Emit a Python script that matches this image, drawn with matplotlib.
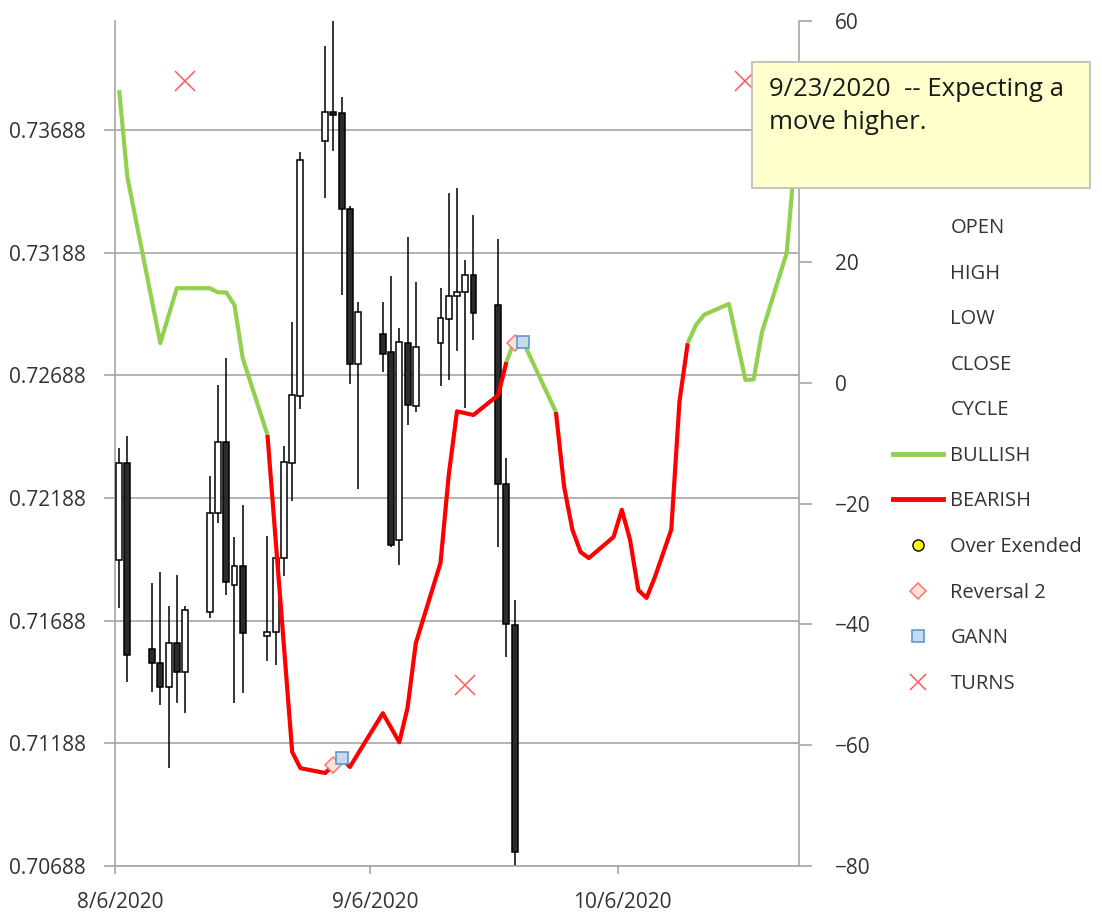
import matplotlib
matplotlib.use('Agg')
import matplotlib.pyplot as plt
import matplotlib.dates as mdates
from matplotlib.lines import Line2D
from matplotlib.patches import Rectangle
from matplotlib.ticker import FixedLocator, FuncFormatter
import datetime as dt

plt.rcParams['font.family'] = ['Open Sans', 'DejaVu Sans']

# ---------------- data ----------------
candle_dates = ['2020-08-06', '2020-08-07',
                '2020-08-10', '2020-08-11', '2020-08-12', '2020-08-13', '2020-08-14',
                '2020-08-17', '2020-08-18', '2020-08-19', '2020-08-20', '2020-08-21',
                '2020-08-24', '2020-08-25', '2020-08-26', '2020-08-27', '2020-08-28',
                '2020-08-31', '2020-09-01', '2020-09-02', '2020-09-03', '2020-09-04',
                '2020-09-07', '2020-09-08', '2020-09-09', '2020-09-10', '2020-09-11',
                '2020-09-14', '2020-09-15', '2020-09-16', '2020-09-17', '2020-09-18',
                '2020-09-21', '2020-09-22', '2020-09-23']
open_ = [0.71937, 0.72329, 0.71574, 0.71517, 0.71419, 0.71598, 0.71480, 0.71725, 0.72129,
         0.72415, 0.71835, 0.71912, 0.71627, 0.71643, 0.71945, 0.72329, 0.72606, 0.73643,
         0.73761, 0.73757, 0.73366, 0.72733, 0.72855, 0.72782, 0.72015, 0.72819, 0.72562,
         0.72819, 0.72917, 0.73010, 0.73027, 0.73096, 0.72974, 0.72247, 0.71672]
high = [0.72394, 0.72439, 0.71843, 0.71888, 0.71749, 0.71876, 0.71749, 0.72276, 0.72647,
        0.72757, 0.72031, 0.72161, 0.72035, 0.71955, 0.72402, 0.72904, 0.73598, 0.74031,
        0.74150, 0.73823, 0.73378, 0.72986, 0.72986, 0.73092, 0.72880, 0.73251, 0.73068,
        0.73043, 0.73431, 0.73451, 0.73157, 0.73341, 0.73243, 0.72353, 0.71774]
low = [0.71741, 0.71439, 0.71398, 0.71345, 0.71088, 0.71353, 0.71313, 0.71700, 0.72088,
       0.71794, 0.71353, 0.71394, 0.71525, 0.71508, 0.71872, 0.72174, 0.72553, 0.73410,
       0.73602, 0.73015, 0.72651, 0.72223, 0.72700, 0.71990, 0.71917, 0.72484, 0.72540,
       0.72643, 0.72668, 0.72786, 0.72557, 0.72831, 0.71990, 0.71541, 0.70670]
close = [0.72329, 0.71549, 0.71517, 0.71419, 0.71598, 0.71480, 0.71733, 0.72129, 0.72415,
         0.71847, 0.71912, 0.71639, 0.71643, 0.71945, 0.72333, 0.72610, 0.73566, 0.73761,
         0.73749, 0.73366, 0.72733, 0.72945, 0.72774, 0.71998, 0.72823, 0.72566, 0.72802,
         0.72921, 0.73010, 0.73027, 0.73096, 0.72941, 0.72247, 0.71676, 0.70745]

start_date = '2020-08-06'   # day 0 of the cycle series
end_date = '2020-10-28'

# cycle (right axis): day offsets from start_date and values
bull1_days = [0, 1, 5, 7, 11, 12, 13, 14, 15, 18]
bull1_vals = [48.5, 34.1, 6.6, 15.7, 15.7, 15.0, 15.0, 12.9, 4.1, -8.6]
bear1_days = [18, 21, 22, 25, 26, 27, 28, 32, 34, 35, 36, 39, 40, 41, 43, 46, 47]
bear1_vals = [-8.6, -61.1, -63.8, -64.6, -63.3, -62.1, -63.6, -54.7, -59.5, -53.8, -43.1,
              -29.8, -15.2, -4.7, -5.3, -2.0, 3.5]
bull2_days = [47, 48, 49, 53]
bull2_vals = [3.5, 7.1, 6.9, -4.8]
bear2_days = [53, 54, 55, 56, 57, 60, 61, 62, 63, 64, 65, 67, 68, 69]
bear2_vals = [-4.8, -17.2, -24.3, -28.0, -29.0, -25.5, -21.0, -26.0, -34.3, -35.6, -32.2,
              -24.3, -3.0, 6.6]
bull3_days = [69, 70, 71, 74, 76, 77, 78, 81, 82]
bull3_vals = [6.6, 9.6, 11.3, 13.1, 0.5, 0.6, 8.4, 21.5, 37.0]

reversal_days = [26, 48]
reversal_vals = [-63.3, 6.6]
gann_days = [27, 49]
gann_vals = [-62.1, 6.8]
turn_days = [8, 42, 76]
turn_vals = [50, -50, 50]

left_ticks = [0.70688, 0.71188, 0.71688, 0.72188, 0.72688, 0.73188, 0.73688]
right_ticks = [-80, -60, -40, -20, 0, 20, 40, 60]
x_tick_dates = ['2020-08-06', '2020-09-06', '2020-10-06']
legend_labels = ['OPEN', 'HIGH', 'LOW', 'CLOSE', 'CYCLE', 'BULLISH', 'BEARISH',
                 'Over Exended', 'Reversal 2', 'GANN', 'TURNS']
note_text = '9/23/2020  -- Expecting a\nmove higher.'

# ---------------- figure ----------------
W, H = 1102, 913
fig = plt.figure(figsize=(W / 100, H / 100), dpi=100)
ax_l, ax_r, ax_t, ax_b = 115, 799, 20.7, 866
ax = fig.add_axes([ax_l / W, 1 - ax_b / H, (ax_r - ax_l) / W, (ax_b - ax_t) / H])

base = mdates.date2num(dt.datetime.strptime(start_date, '%Y-%m-%d'))
def dnum(s):
    return mdates.date2num(dt.datetime.strptime(s, '%Y-%m-%d'))

grid_c = '#A6A6A6'
text_c = '#333333'
green = '#92D050'
red = '#FF0000'

# candlesticks
for d, o, h, l, c in zip(candle_dates, open_, high, low, close):
    x = dnum(d) + 0.5
    ax.vlines(x, l, h, color='black', lw=1.1, zorder=2)
    up = c >= o
    ax.bar(x, abs(c - o), bottom=min(o, c), width=0.72,
           color='white' if up else '#2B2B2B', edgecolor='black', lw=1.1, zorder=3)

ax.set_xlim(dnum(start_date), dnum(end_date))
ax.set_ylim(0.70688, 0.74134)
ax.set_yticks(left_ticks)
ax.set_yticklabels([f'{v:.5f}' for v in left_ticks])
ax.grid(axis='y', color=grid_c, lw=1.2)
ax.set_axisbelow(True)

# x ticks: marks at dates, labels centred half a day later
ax.xaxis.set_major_locator(FixedLocator([dnum(s) for s in x_tick_dates]))
ax.xaxis.set_major_formatter(FuncFormatter(lambda v, p: ''))
ax.xaxis.set_minor_locator(FixedLocator([dnum(s) + 0.6 for s in x_tick_dates]))
def fmt_date(v, p):
    d = mdates.num2date(v)
    return f'{d.month}/{d.day}/{d.year}'
ax.xaxis.set_minor_formatter(FuncFormatter(fmt_date))
ax.tick_params(axis='x', which='major', length=6, width=1.2, color=grid_c)
ax.tick_params(axis='x', which='minor', length=0, pad=19, labelsize=15, labelcolor=text_c)
ax.tick_params(axis='y', length=8, width=1.2, color=grid_c, pad=13, labelsize=15,
               labelcolor=text_c)
for s in ['top', 'right']:
    ax.spines[s].set_visible(False)
for s in ['left', 'bottom']:
    ax.spines[s].set_color(grid_c)
    ax.spines[s].set_linewidth(1.2)

# right axis: cycle
ax2 = ax.twinx()
ax2.set_ylim(-80, 60)
ax2.set_yticks(right_ticks)
ax2.tick_params(axis='y', length=9, width=1.2, color=grid_c, pad=17, labelsize=15,
                labelcolor=text_c)
for s in ['top', 'left', 'bottom']:
    ax2.spines[s].set_visible(False)
ax2.spines['right'].set_color(grid_c)
ax2.spines['right'].set_linewidth(1.2)

def xs(days):
    return [base + d + 0.5 for d in days]

lw_c = 3.0
for dd, vv, col in [(bull1_days, bull1_vals, green), (bear1_days, bear1_vals, red),
                    (bull2_days, bull2_vals, green), (bear2_days, bear2_vals, red),
                    (bull3_days, bull3_vals, green)]:
    ax2.plot(xs(dd), vv, color=col, lw=lw_c, solid_joinstyle='round',
             solid_capstyle='butt', zorder=3)

ax2.plot(xs(reversal_days), reversal_vals, ls='none', marker='D', ms=8.5,
         mfc='#FCE4D6', mec='#FF7C80', mew=1.2, zorder=4)
ax2.plot(xs(gann_days), gann_vals, ls='none', marker='s', ms=9,
         mfc='#C9DAF0', mec='#5B9BD5', mew=1.2, zorder=5)
ax2.plot(xs(turn_days), turn_vals, ls='none', marker='x', ms=15,
         color='#FF5A5A', mew=1.1, zorder=4)

# legend
blank = Line2D([], [], color='none')
handles = [blank, blank, blank, blank, blank,
           Line2D([], [], color=green, lw=3.5),
           Line2D([], [], color=red, lw=3.5),
           Line2D([], [], ls='none', marker='o', ms=8, mfc='#FFFF00', mec='black', mew=1.0),
           Line2D([], [], ls='none', marker='D', ms=8, mfc='#FCE4D6', mec='#FF7C80', mew=1.2),
           Line2D([], [], ls='none', marker='s', ms=8, mfc='#C9DAF0', mec='#5B9BD5', mew=1.2),
           Line2D([], [], ls='none', marker='x', ms=12, color='#FF5A5A', mew=1.1)]
leg = fig.legend(handles, legend_labels, loc='upper left',
                 bbox_to_anchor=(893 / W, 1 - 218 / H), frameon=False, fontsize=14.5,
                 handlelength=2.5, handletextpad=0.35, labelspacing=1.27,
                 borderpad=0, borderaxespad=0)
for t in leg.get_texts():
    t.set_color(text_c)

# note box
box = Rectangle((752 / W, 1 - 188 / H), (1090 - 752) / W, (188 - 62) / H,
                transform=fig.transFigure, facecolor='#FFFFCC', edgecolor='#BFBFBF',
                lw=1.3, zorder=10)
fig.add_artist(box)
fig.text(769 / W, 1 - 77 / H, note_text, ha='left', va='top', fontsize=18.5,
         color='#1A1A1A', linespacing=1.42, zorder=11)

fig.savefig('out.png', dpi=100, facecolor='white')
